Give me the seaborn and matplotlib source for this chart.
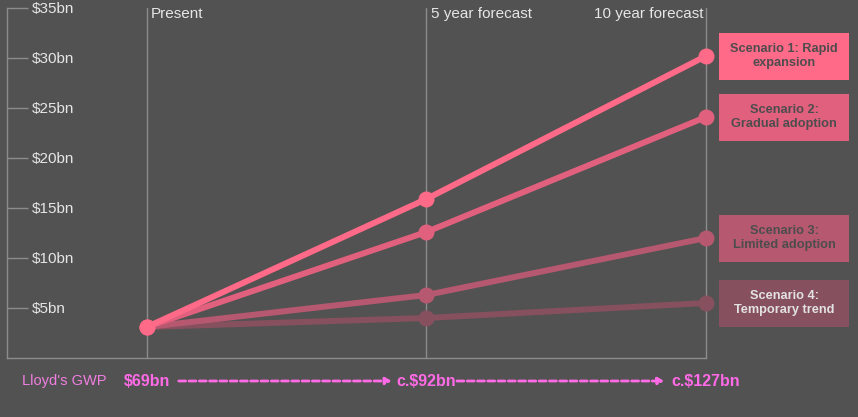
import numpy as np
import pandas as pd
import seaborn as sns
import matplotlib.pyplot as plt
import matplotlib.transforms as mtransforms
from matplotlib.patches import Rectangle

periods = ['Present', '5 year forecast', '10 year forecast']
scenarios = ['Scenario 1: Rapid\nexpansion', 'Scenario 2:\nGradual adoption',
             'Scenario 3:\nLimited adoption', 'Scenario 4:\nTemporary trend']
rapid = [3.1, 15.9, 30.2]
gradual = [3.1, 12.6, 24.1]
limited = [3.1, 6.3, 12.0]
temporary = [3.1, 4.0, 5.5]
yticks = [5, 10, 15, 20, 25, 30, 35]
ytick_labels = ['$5bn', '$10bn', '$15bn', '$20bn', '$25bn', '$30bn', '$35bn']
gwp_labels = ['$69bn', 'c.$92bn', 'c.$127bn']

colors = ['#ff6a88', '#e0607e', '#b65870', '#87505e']
box_text = ['#4d4d4d', '#4d4d4d', '#4d4d4d', '#e2e2e2']
bg = '#525252'
grid = '#8c8c8c'
txt = '#e6e6e6'
pink = '#ff6ae6'

df = pd.DataFrame({
    'x': np.tile(np.arange(len(periods)), len(scenarios)),
    'value': rapid + gradual + limited + temporary,
    'scenario': np.repeat(scenarios, len(periods)),
})

sns.set_style('dark', {'axes.facecolor': bg, 'figure.facecolor': bg})
plt.rcParams['font.family'] = ['Liberation Sans', 'DejaVu Sans']

W, H = 858, 417
fig = plt.figure(figsize=(W / 100, H / 100), dpi=100)
ax = fig.add_axes([7 / W, (H - 358) / H, 699 / W, 350 / H])
ax.set_facecolor(bg)

# period gridlines
for i in range(len(periods)):
    ax.axvline(i, color=grid, lw=1, zorder=1)

sns.lineplot(data=df, x='x', y='value', hue='scenario', hue_order=scenarios[::-1],
             palette=dict(zip(scenarios, colors)), marker='o', markersize=11.5,
             markeredgewidth=0, linewidth=4.3, legend=False, ax=ax, zorder=3)
for ln in ax.lines:
    ln.set_clip_on(False)

ax.set_xlim(-0.5, 2)
ax.set_ylim(0, 35)
ax.set_xticks([])
ax.set_yticks(yticks)
ax.set_yticklabels(ytick_labels, ha='left', color=txt, fontsize=11)
ax.tick_params(axis='y', direction='in', length=15, width=1, color=grid, pad=-18, left=True)
ax.set_xlabel('')
ax.set_ylabel('')
for s in ['top', 'right']:
    ax.spines[s].set_visible(False)
for s in ['left', 'bottom']:
    ax.spines[s].set_visible(True)
    ax.spines[s].set_color(grid)
    ax.spines[s].set_linewidth(1)

# period headers
top = mtransforms.blended_transform_factory(ax.transData, ax.transAxes)
for i, p in enumerate(periods):
    if i < 2:
        ax.text(i + 0.015, 0.982, p, transform=top, ha='left', va='center',
                color=txt, fontsize=11)
    else:
        ax.text(i - 0.008, 0.982, p, transform=top, ha='right', va='center',
                color=txt, fontsize=11)

# scenario boxes
side = mtransforms.blended_transform_factory(ax.transAxes, ax.transData)
for name, series, c, tc in zip(scenarios, [rapid, gradual, limited, temporary], colors, box_text):
    v = series[-1]
    ax.add_patch(Rectangle((1.0186, v - 2.35), 0.186, 4.7, transform=side,
                           facecolor=c, edgecolor='none', clip_on=False))
    ax.text(1.1116, v, name, transform=side, ha='center', va='center', color=tc,
            fontsize=9.2, fontweight='bold', linespacing=1.22, clip_on=False)

# Lloyd's GWP row
row_y = 1 - 381 / H
fig.text(22 / W, row_y, "Lloyd's GWP", color='#f07ee0', fontsize=10.5, va='center')
low = mtransforms.blended_transform_factory(ax.transData, fig.transFigure)
for i, lab in enumerate(gwp_labels):
    ax.text(i, row_y, lab, transform=low, ha='center', va='center', color=pink,
            fontsize=11.5, fontweight='bold', clip_on=False)
for a, b, sa, sb in [(0, 1, 23, 25), (1, 2, 22, 30)]:
    ax.annotate('', xy=(b, row_y), xytext=(a, row_y), xycoords=low, textcoords=low,
                arrowprops=dict(arrowstyle='-|>,head_length=0.35,head_width=0.2',
                                color=pink, lw=2, linestyle=(0, (2.5, 1.2)),
                                shrinkA=sa, shrinkB=sb), annotation_clip=False)

fig.savefig('out.png', dpi=100, facecolor=bg)
